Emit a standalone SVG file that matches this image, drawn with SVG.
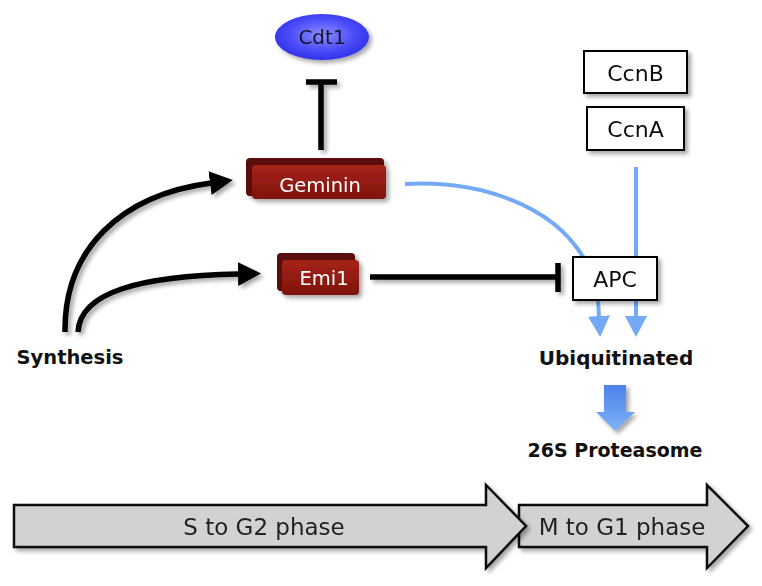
<svg xmlns="http://www.w3.org/2000/svg" width="762" height="586" viewBox="0 0 762 586">
<defs>
  <filter id="sh" x="-20%" y="-20%" width="150%" height="160%">
    <feDropShadow dx="3" dy="3" stdDeviation="2" flood-color="#000" flood-opacity="0.35"/>
  </filter>
  <radialGradient id="cdt" cx="50%" cy="45%" r="60%">
    <stop offset="0" stop-color="#8c8cff"/>
    <stop offset="0.6" stop-color="#4a4af8"/>
    <stop offset="1" stop-color="#2a2ae6"/>
  </radialGradient>
  <linearGradient id="red" x1="0" y1="0" x2="0" y2="1">
    <stop offset="0" stop-color="#a62318"/>
    <stop offset="1" stop-color="#7e140c"/>
  </linearGradient>
  <linearGradient id="fat" x1="0" y1="0" x2="0" y2="1">
    <stop offset="0" stop-color="#4d82ec"/>
    <stop offset="1" stop-color="#7fb2f6"/>
  </linearGradient>
  <marker id="ah" markerUnits="userSpaceOnUse" viewBox="0 0 24 24" markerWidth="24" markerHeight="24" refX="1" refY="12" orient="auto">
    <path d="M0,0 L23,12 L0,24 z" fill="#000"/>
  </marker>
  <marker id="bh" markerUnits="userSpaceOnUse" viewBox="0 0 22 22" markerWidth="22" markerHeight="22" refX="1" refY="11" orient="auto">
    <path d="M0,0 L21,11 L0,22 z" fill="#74aaf5"/>
  </marker>
  <style>
    .lbl{font-family:"DejaVu Sans","Liberation Sans",sans-serif;}
    .bold{font-family:"DejaVu Sans","Liberation Sans",sans-serif;font-weight:bold;fill:#111;}
    .box{fill:#fff;stroke:#000;stroke-width:2;}
    .blk{fill:none;stroke:#000;stroke-width:5.5;}
    .blue{fill:none;stroke:#74aaf5;stroke-width:4;}
    .phase{fill:#d2d2d2;stroke:#111;stroke-width:2.5;stroke-linejoin:miter;}
  </style>
</defs>
<rect width="762" height="586" fill="#fff"/>

<g id="connectors">
  <g filter="url(#sh)">
    <path class="blk" d="M65,332 C64,250 120,195 211,183" marker-end="url(#ah)"/>
    <path class="blk" d="M78,332 C80,292 140,276 239,274" marker-end="url(#ah)"/>
    <path class="blk" d="M321,150 L321,82 M306,82 L337,82"/>
    <path class="blk" d="M370,277 L558,277 M558,263 L558,292"/>
  </g>
  <path class="blue" d="M405,184 C480,180 555,205 586,262 L598,300 L599,317" marker-end="url(#bh)"/>
  <path class="blue" d="M636,167 L636,317" marker-end="url(#bh)"/>
  <path d="M604,385 L626,385 L626,412 L635,412 L615,431 L596,412 L604,412 Z" fill="url(#fat)" filter="url(#sh)"/>
</g>

<g id="cdt1" filter="url(#sh)">
  <ellipse cx="322" cy="37" rx="47" ry="23" fill="url(#cdt)"/>
  <text class="lbl" x="322" y="44" font-size="20" text-anchor="middle" fill="#141430">Cdt1</text>
</g>

<g id="geminin" filter="url(#sh)">
  <rect x="246" y="158" width="138" height="38" rx="4" fill="#5a0e08"/>
  <rect x="252" y="165" width="134" height="34" rx="4" fill="url(#red)"/>
  <text class="lbl" x="320" y="192" font-size="19.5" text-anchor="middle" fill="#fff">Geminin</text>
</g>

<g id="emi1" filter="url(#sh)">
  <rect x="277" y="253" width="78" height="38" rx="4" fill="#5a0e08"/>
  <rect x="282" y="260" width="77" height="35" rx="4" fill="url(#red)"/>
  <text class="lbl" x="324" y="285" font-size="19.5" text-anchor="middle" fill="#fff">Emi1</text>
</g>

<g id="ccnb" filter="url(#sh)">
  <rect class="box" x="584" y="51" width="103" height="42"/>
  <text class="lbl" x="635.5" y="81" font-size="22" text-anchor="middle" fill="#111">CcnB</text>
</g>

<g id="ccna" filter="url(#sh)">
  <rect class="box" x="587" y="107" width="97" height="43"/>
  <text class="lbl" x="635.5" y="137" font-size="22" text-anchor="middle" fill="#111">CcnA</text>
</g>

<g id="apc" filter="url(#sh)">
  <rect class="box" x="573" y="257" width="84" height="43"/>
  <text class="lbl" x="615" y="287" font-size="22" text-anchor="middle" fill="#111">APC</text>
</g>

<g id="synthesis">
  <text class="bold" x="70" y="364" font-size="19.5" text-anchor="middle">Synthesis</text>
</g>

<g id="ubiquitinated">
  <text class="bold" x="616" y="365" font-size="20" text-anchor="middle">Ubiquitinated</text>
</g>

<g id="proteasome">
  <text class="bold" x="615" y="457" font-size="19" text-anchor="middle">26S Proteasome</text>
</g>

<g id="m-g1" filter="url(#sh)">
  <path class="phase" d="M519,505 L707,505 L707,485 L748,526 L707,568 L707,547 L519,547 Z"/>
  <text class="lbl" x="622" y="535" font-size="23" text-anchor="middle" fill="#222">M to G1 phase</text>
</g>

<g id="s-g2" filter="url(#sh)">
  <path class="phase" d="M14,505 L486,505 L486,485 L526,526 L486,568 L486,547 L14,547 Z"/>
  <text class="lbl" x="264" y="535" font-size="23" text-anchor="middle" fill="#222">S to G2 phase</text>
</g>
</svg>
